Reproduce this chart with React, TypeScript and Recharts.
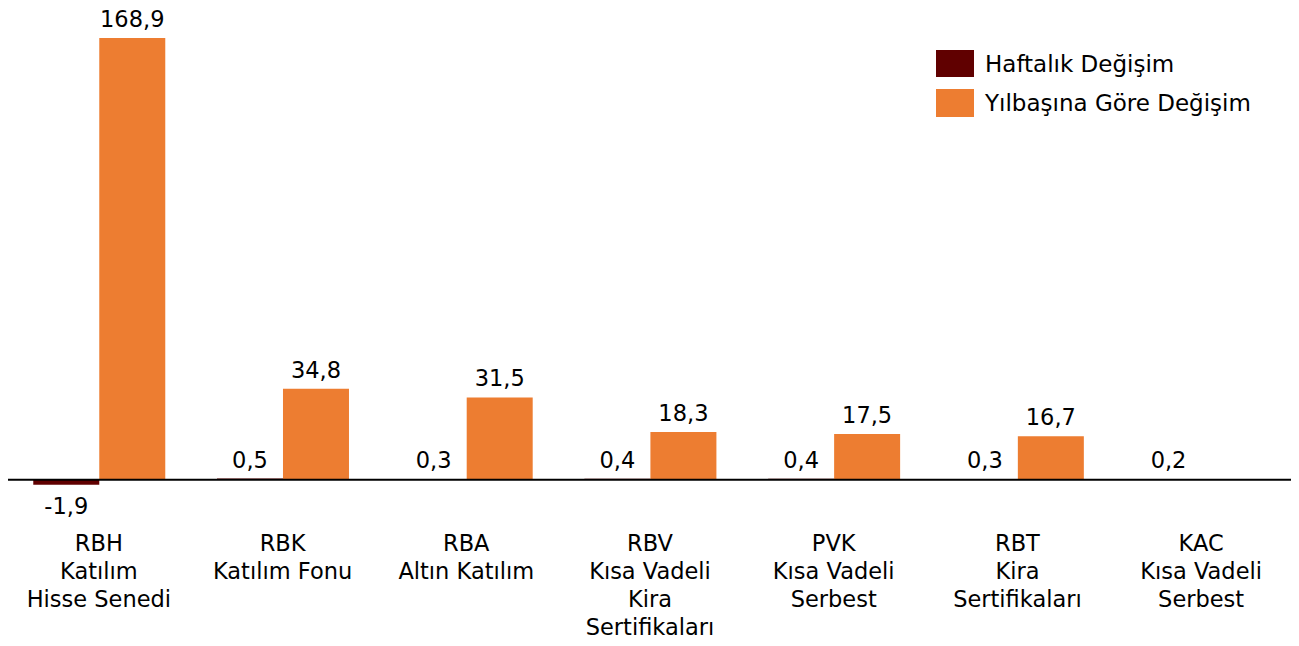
import React from 'react';
import { BarChart, Bar, XAxis, YAxis, ReferenceLine, Legend, LabelList } from 'recharts';

const categories = [
  ['RBH', 'Katılım', 'Hisse Senedi'],
  ['RBK', 'Katılım Fonu'],
  ['RBA', 'Altın Katılım'],
  ['RBV', 'Kısa Vadeli', 'Kira', 'Sertifikaları'],
  ['PVK', 'Kısa Vadeli', 'Serbest'],
  ['RBT', 'Kira', 'Sertifikaları'],
  ['KAC', 'Kısa Vadeli', 'Serbest'],
];
const weekly = [-1.9, 0.5, 0.3, 0.4, 0.4, 0.3, 0.2];
const ytd: (number | null)[] = [168.9, 34.8, 31.5, 18.3, 17.5, 16.7, null];
const seriesNames = ['Haftalık Değişim', 'Yılbaşına Göre Değişim'];
const colors = ['#600000', '#ED7D31'];

const data = categories.map((c, i) => ({
  key: c.join('\n'),
  weekly: weekly[i],
  ytd: ytd[i],
}));

const FONT = 'DejaVu Sans, sans-serif';

const fmt = (v: any) => (v === null || v === undefined ? '' : String(v).replace('.', ','));

const ValueLabel = (props: any) => {
  const { x, y, width, height, value } = props;
  if (value === null || value === undefined) return null;
  const top = Math.min(y, y + height);
  const bottom = Math.max(y, y + height);
  const cx = x + width / 2;
  const ty = value >= 0 ? top - 11 : bottom + 29;
  return (
    <text x={cx} y={ty} textAnchor="middle" fontFamily={FONT} fontSize={22.5} fill="#000">
      {fmt(value)}
    </text>
  );
};

const CatTick = (props: any) => {
  const { x, y, payload } = props;
  const lines = String(payload.value).split('\n');
  return (
    <g>
      {lines.map((l, i) => (
        <text key={i} x={x} y={y + 37 + i * 28} textAnchor="middle" fontFamily={FONT} fontSize={22.5} fill="#000">
          {l}
        </text>
      ))}
    </g>
  );
};

const LegendContent = () => (
  <svg width={360} height={80} style={{ display: 'block' }}>
    <rect x={0} y={0} width={38} height={27} fill={colors[0]} />
    <text x={49} y={22} fontFamily={FONT} fontSize={23} fill="#000">{seriesNames[0]}</text>
    <rect x={0} y={39} width={38} height={28} fill={colors[1]} />
    <text x={49} y={61} fontFamily={FONT} fontSize={23} fill="#000">{seriesNames[1]}</text>
  </svg>
);

export default function App() {
  return (
    <div style={{ marginLeft: -8, marginTop: -8, width: 1299, height: 646, background: '#fff' }}>
      <BarChart
        width={1299}
        height={646}
        data={data}
        margin={{ top: 35, right: 6, bottom: 0, left: 7 }}
        barCategoryGap="14.3%"
        barGap={0}
      >
        <XAxis dataKey="key" axisLine={false} tickLine={false} tick={<CatTick />} interval={0} height={140} />
        <YAxis hide domain={[-10, 170]} />
        <Legend
          layout="horizontal"
          verticalAlign="middle"
          align="center"
          content={<LegendContent />}
          wrapperStyle={{ position: 'absolute', left: 936, top: 50, width: 360, height: 80 }}
        />
        <Bar dataKey="weekly" fill={colors[0]} isAnimationActive={false}>
          <LabelList dataKey="weekly" content={<ValueLabel />} />
        </Bar>
        <Bar dataKey="ytd" fill={colors[1]} isAnimationActive={false}>
          <LabelList dataKey="ytd" content={<ValueLabel />} />
        </Bar>
        <ReferenceLine y={0} stroke="#000" strokeWidth={2} />
      </BarChart>
    </div>
  );
}
